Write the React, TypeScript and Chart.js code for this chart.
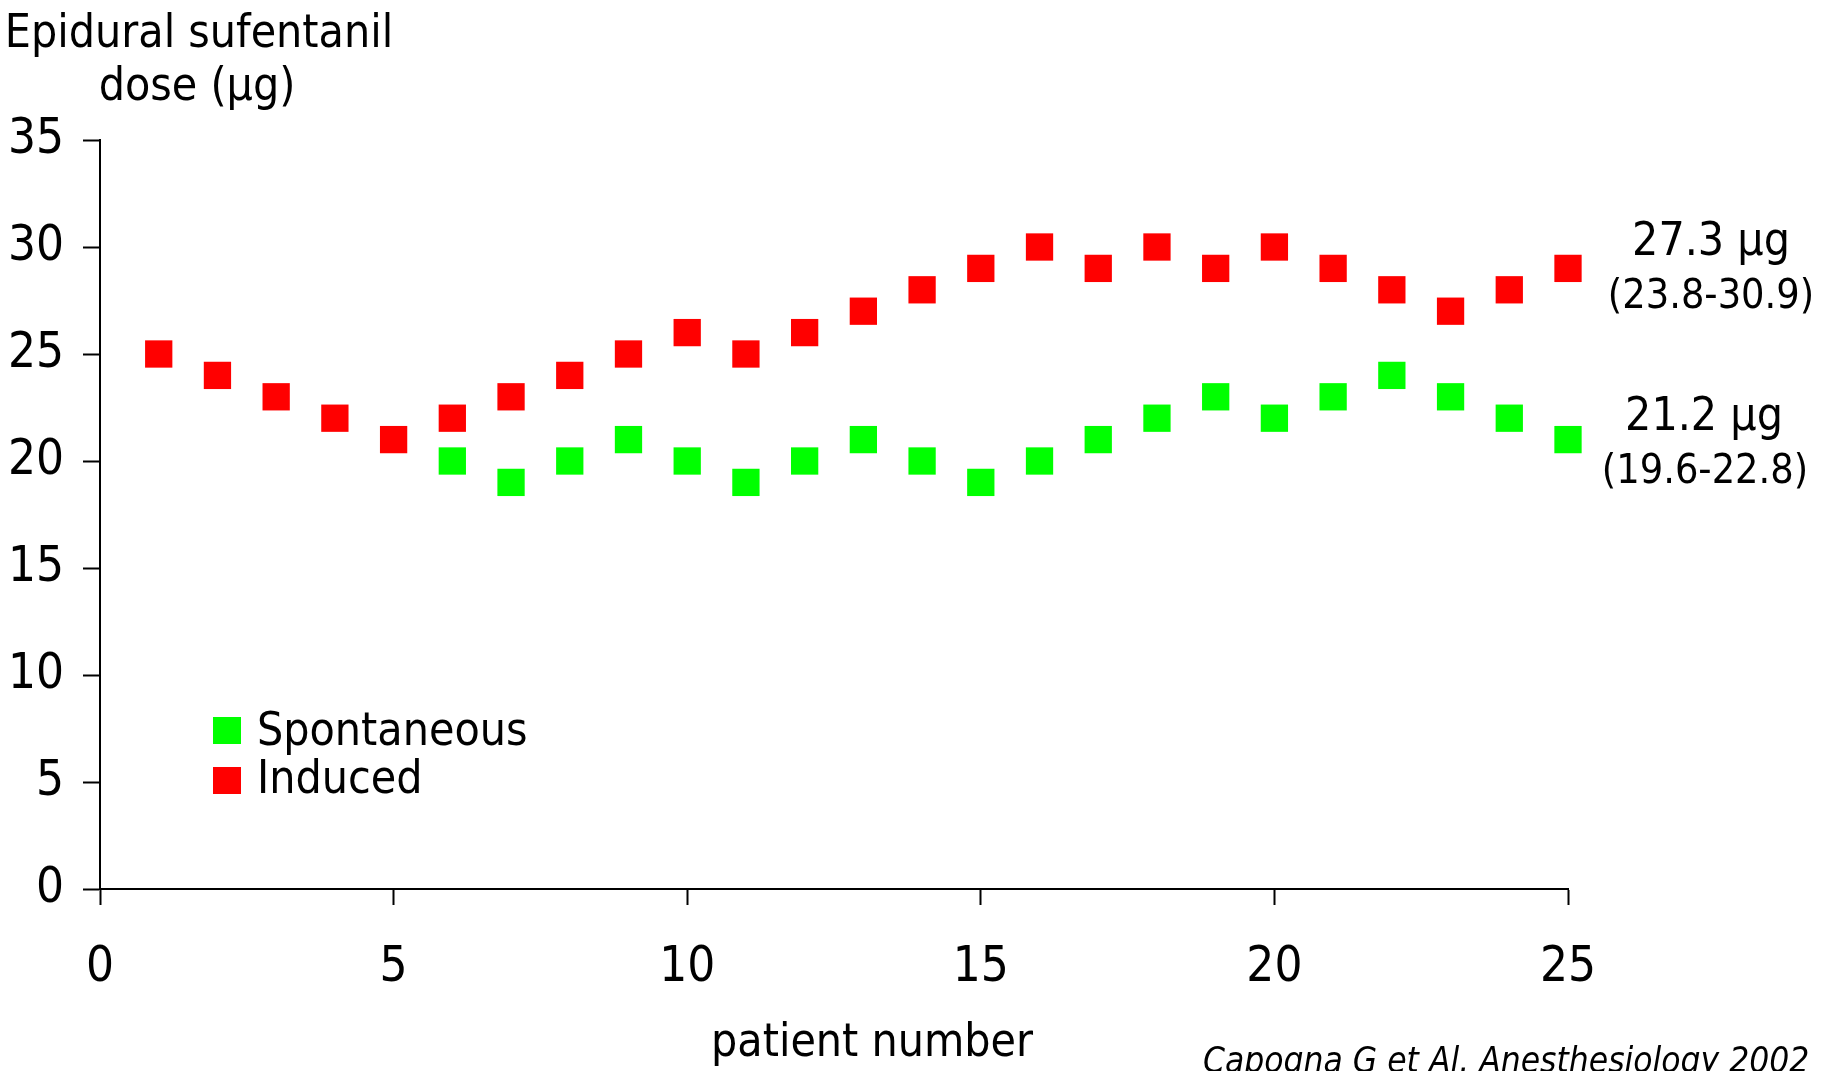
import React, { useEffect, useRef } from "react";
import { Chart, registerables } from "chart.js";

Chart.register(...registerables);

// ---- data ----
const inducedPatients = [1, 2, 3, 4, 5, 6, 7, 8, 9, 10, 11, 12, 13, 14, 15, 16, 17, 18, 19, 20, 21, 22, 23, 24, 25];
const inducedDose = [25, 24, 23, 22, 21, 22, 23, 24, 25, 26, 25, 26, 27, 28, 29, 30, 29, 30, 29, 30, 29, 28, 27, 28, 29];
const spontaneousPatients = [6, 7, 8, 9, 10, 11, 12, 13, 14, 15, 16, 17, 18, 19, 20, 21, 22, 23, 24, 25];
const spontaneousDose = [20, 19, 20, 21, 20, 19, 20, 21, 20, 19, 20, 21, 22, 23, 22, 23, 24, 23, 22, 21];
const xTickValues = [0, 5, 10, 15, 20, 25];
const yTickValues = [0, 5, 10, 15, 20, 25, 30, 35];
const seriesLabels = ["Spontaneous", "Induced"];
const inducedSummary = ["27.3 \u00b5g", "(23.8-30.9)"];
const spontaneousSummary = ["21.2 \u00b5g", "(19.6-22.8)"];
const yTitleLines = ["Epidural sufentanil", "dose (\u00b5g)"];
const xTitle = "patient number";
const citation = "Capogna G et Al. Anesthesiology 2002";

const GREEN = "#00FF00";
const RED = "#FF0000";
const FAMILY = '"DejaVu Sans Condensed", "DejaVu Sans", sans-serif';

export default function App() {
  const ref = useRef<HTMLCanvasElement>(null);

  useEffect(() => {
    document.body.style.margin = "0";
    const canvas = ref.current!;

    const annot = {
      id: "annot",
      afterDraw(chart: any) {
        const ctx = chart.ctx as CanvasRenderingContext2D;
        ctx.save();
        ctx.fillStyle = "#000";
        ctx.textBaseline = "alphabetic";

        // y title
        ctx.font = `46px ${FAMILY}`;
        ctx.textAlign = "center";
        ctx.fillText(yTitleLines[0], 199, 47);
        ctx.fillText(yTitleLines[1], 197, 100);

        // x title
        ctx.fillText(xTitle, 872, 1056);

        // legend
        ctx.textAlign = "left";
        ctx.fillStyle = GREEN;
        ctx.fillRect(213, 717, 28, 27);
        ctx.fillStyle = RED;
        ctx.fillRect(213, 767, 28, 27);
        ctx.fillStyle = "#000";
        ctx.fillText(seriesLabels[0], 257, 745);
        ctx.fillText(seriesLabels[1], 257, 793);

        // summaries
        ctx.textAlign = "center";
        ctx.font = `46px ${FAMILY}`;
        ctx.fillText(inducedSummary[0], 1711, 255);
        ctx.fillText(spontaneousSummary[0], 1704, 430);
        ctx.font = `41px ${FAMILY}`;
        ctx.fillText(inducedSummary[1], 1711, 308);
        ctx.fillText(spontaneousSummary[1], 1705, 483);

        // citation
        ctx.textAlign = "left";
        ctx.font = `italic 35px ${FAMILY}`;
        ctx.fillText(citation, 1203, 1072);
        ctx.restore();
      },
    };

    const tickFont = { family: FAMILY, size: 49 };

    const chart = new Chart(canvas, {
      type: "scatter",
      data: {
        datasets: [
          {
            label: seriesLabels[0],
            data: spontaneousPatients.map((p, i) => ({ x: p, y: spontaneousDose[i] })),
            backgroundColor: GREEN,
            borderColor: GREEN,
            pointStyle: "rect",
            pointRadius: 19.3,
            pointHoverRadius: 19.3,
            pointBorderWidth: 0,
            clip: false,
          },
          {
            label: seriesLabels[1],
            data: inducedPatients.map((p, i) => ({ x: p, y: inducedDose[i] })),
            backgroundColor: RED,
            borderColor: RED,
            pointStyle: "rect",
            pointRadius: 19.3,
            pointHoverRadius: 19.3,
            pointBorderWidth: 0,
            clip: false,
          },
        ],
      },
      options: {
        responsive: false,
        animation: false,
        devicePixelRatio: 1,
        layout: { padding: { top: 140, right: 260, left: 0, bottom: 0 } },
        plugins: { legend: { display: false }, tooltip: { enabled: false } },
        scales: {
          x: {
            type: "linear",
            min: 0,
            max: 25,
            afterFit: (s: any) => {
              s.height = 182;
            },
            afterBuildTicks: (s: any) => {
              s.ticks = xTickValues.map((v) => ({ value: v }));
            },
            grid: { drawOnChartArea: false, drawTicks: true, tickLength: 16, tickWidth: 2, color: "#000" },
            border: { display: true, color: "#000", width: 2 },
            ticks: { font: tickFont, color: "#000", padding: 34, maxRotation: 0, autoSkip: false },
          },
          y: {
            type: "linear",
            min: 0,
            max: 35,
            afterFit: (s: any) => {
              s.width = 100;
            },
            afterBuildTicks: (s: any) => {
              s.ticks = yTickValues.map((v) => ({ value: v }));
            },
            grid: { drawOnChartArea: false, drawTicks: true, tickLength: 17, tickWidth: 2, color: "#000" },
            border: { display: true, color: "#000", width: 2 },
            ticks: { font: tickFont, color: "#000", padding: 19, autoSkip: false },
          },
        },
      },
      plugins: [annot],
    } as any);

    return () => chart.destroy();
  }, []);

  return (
    <canvas
      ref={ref}
      width={1828}
      height={1071}
      style={{ display: "block", position: "absolute", left: 0, top: 0, width: 1828, height: 1071 }}
    />
  );
}
